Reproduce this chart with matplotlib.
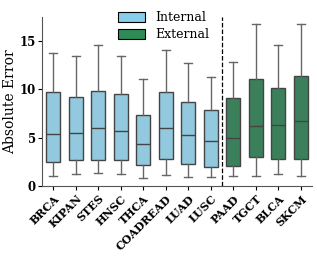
import matplotlib
matplotlib.use("Agg")
import matplotlib.pyplot as plt
from matplotlib.patches import Patch

# ── data ─────────────────────────────────────────────────────────────────────
cancers = ["BRCA", "KIPAN", "STES", "HNSC", "THCA", "COADREAD", "LUAD", "LUSC",
           "PAAD", "TGCT", "BLCA", "SKCM"]
groups = ["Internal"] * 8 + ["External"] * 4
whislo = [1.05, 1.25, 1.3, 1.2, 0.8, 1.15, 0.9, 0.9, 1.03, 1.07, 1.24, 1.03]
q1 = [2.5, 2.7, 2.7, 2.7, 2.15, 2.75, 2.27, 1.93, 2.07, 3.03, 2.75, 2.75]
med = [5.35, 5.45, 5.97, 5.72, 4.37, 6.0, 5.24, 4.7, 4.96, 6.24, 6.27, 6.69]
q3 = [9.75, 9.25, 9.8, 9.55, 7.4, 9.7, 8.65, 7.86, 9.07, 11.1, 10.1, 11.44]
whishi = [13.8, 13.5, 14.65, 13.5, 11.1, 14.1, 12.75, 11.3, 12.8, 16.75, 14.65, 16.75]

COLORS = {"Internal": "#92c9de", "External": "#3b805b"}
LEGEND_COLORS = {"Internal": "#87ceeb", "External": "#2e8b57"}

plt.rcParams["font.family"] = ["DejaVu Serif"]

fig = plt.figure(figsize=(3.17, 2.58), dpi=100)
ax = fig.add_axes([0.1325, 0.279, 0.852, 0.655])

stats = [dict(label=c, whislo=a, q1=b, med=m, q3=d, whishi=e)
         for c, a, b, m, d, e in zip(cancers, whislo, q1, med, q3, whishi)]
bp = ax.bxp(stats, positions=range(len(cancers)), widths=0.62,
            showfliers=False, patch_artist=True,
            boxprops=dict(edgecolor="#444444", linewidth=1.0),
            medianprops=dict(color="#444444", linewidth=1.0),
            whiskerprops=dict(color="#666666", linewidth=1.0),
            capprops=dict(color="#666666", linewidth=1.0),
            capwidths=0.36)
for box, g in zip(bp["boxes"], groups):
    box.set_facecolor(COLORS[g])

ax.axvline(7.5, color="black", linestyle="--", linewidth=0.9)

ax.set_xlim(-0.5, 11.5)
ax.set_ylim(0, 17.5)
ax.set_yticks([0, 5, 10, 15])
ax.set_xticks(range(len(cancers)))
ax.set_xticklabels(cancers, rotation=45, ha="right", rotation_mode="anchor",
                   fontsize=8, fontweight="bold")
for lab in ax.get_yticklabels():
    lab.set_fontweight("bold")
    lab.set_fontsize(8.5)
ax.set_ylabel("Absolute Error", fontsize=10, labelpad=2)
ax.tick_params(axis="x", length=3, pad=2)
ax.tick_params(axis="y", length=3, pad=1.5)
for s in ["top", "right"]:
    ax.spines[s].set_visible(False)
for s in ["left", "bottom"]:
    ax.spines[s].set_color("#555555")

handles = [Patch(facecolor=LEGEND_COLORS[g], edgecolor="black", linewidth=0.8, label=g)
           for g in ["Internal", "External"]]
ax.legend(handles=handles, loc="upper center", bbox_to_anchor=(0.45, 1.1),
          frameon=False, fontsize=9, handlelength=2.2, handleheight=0.9,
          labelspacing=0.3)

fig.savefig("out.png", dpi=100)
